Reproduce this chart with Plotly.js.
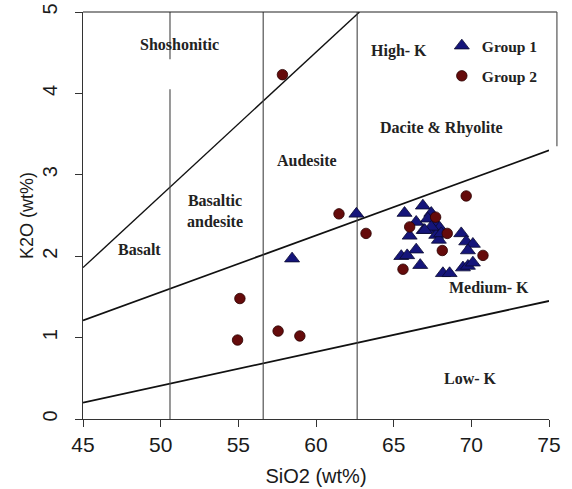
<!DOCTYPE html>
<html>
<head>
<meta charset="utf-8">
<script src="https://cdn.plot.ly/plotly-3.0.1.min.js"></script>
<style>html,body{margin:0;padding:0;background:#fff;}#chart{width:572px;height:489px;}</style>
</head>
<body>
<div id="chart"></div>
<script>
// ---- data ----
const group1SiO2 = [58.46, 62.6, 65.7, 66.88, 67.42, 66.45, 67.2, 67.74, 66.93, 67.53, 67.96, 66.03, 67.74, 67.91, 69.35, 69.67, 70.1, 69.78, 66.45, 65.49, 65.87, 66.71, 68.17, 68.6, 69.46, 69.78, 70.1, 67.42, 68.06, 67.0];
const group1K2O  = [1.97, 2.52, 2.53, 2.62, 2.53, 2.42, 2.46, 2.39, 2.32, 2.33, 2.35, 2.25, 2.26, 2.2, 2.28, 2.18, 2.15, 2.07, 2.08, 2.0, 2.01, 1.89, 1.79, 1.79, 1.86, 1.88, 1.92, 2.36, 2.28, 2.32];
const group2SiO2 = [57.84, 55.1, 54.95, 57.56, 58.96, 61.48, 63.22, 69.67, 66.03, 67.7, 68.45, 68.13, 70.75, 65.6];
const group2K2O  = [4.23, 1.48, 0.97, 1.08, 1.02, 2.52, 2.28, 2.74, 2.36, 2.48, 2.28, 2.07, 2.01, 1.84];

// boundary lines (SiO2, K2O)
const lowMedX = [45, 75],   lowMedY = [0.2, 1.45];
const medHighX = [45, 75],  medHighY = [1.21, 3.3];
const highShoX = [45, 62.8], highShoY = [1.86, 5.0];
const vBasaltX = [50.6, 50.6], vBasaltY = [0, 4.05];
const vBasaltTopX = [50.6, 50.6], vBasaltTopY = [4.42, 5.0];
const vAndX = [56.6, 56.6], vAndY = [0, 5];
const vDacX = [62.65, 62.65], vDacY = [0, 5];

const xTicks = [45, 50, 55, 60, 65, 70, 75];
const yTicks = [0, 1, 2, 3, 4, 5];

// region labels
const labelText = ['Shoshonitic', 'High- K', 'Dacite &amp; Rhyolite', 'Audesite', 'Basaltic<br>andesite', 'Basalt', 'Medium- K', 'Low- K'];
const labelX = [51.18, 65.35, 68.09, 59.42, 53.47, 48.64, 71.14, 69.92];
const labelY = [4.6, 4.52, 3.57, 3.18, 2.55, 2.08, 1.62, 0.5];

const serif = 'Liberation Serif, Times New Roman, serif';
const sans = 'Liberation Sans, Arial, sans-serif';

function bline(x, y, color, width) {
  return {x: x, y: y, type: 'scatter', mode: 'lines', showlegend: false, hoverinfo: 'skip',
          line: {color: color, width: width}};
}

const traces = [
  bline(lowMedX, lowMedY, '#111', 1.8),
  bline(medHighX, medHighY, '#111', 1.8),
  bline(highShoX, highShoY, '#111', 1.4),
  bline(vBasaltX, vBasaltY, '#444', 1.1),
  bline(vBasaltTopX, vBasaltTopY, '#444', 1.1),
  bline(vAndX, vAndY, '#444', 1.1),
  bline(vDacX, vDacY, '#444', 1.1),
  {x: group1SiO2, y: group1K2O, type: 'scatter', mode: 'markers', name: 'Group 1', legendgroup: 'g1',
   marker: {symbol: 'triangle-up', size: 13, color: '#15157a', line: {color: '#0a0a30', width: 0.8}}},
  {x: group2SiO2, y: group2K2O, type: 'scatter', mode: 'markers', name: 'Group 2', legendgroup: 'g2',
   marker: {symbol: 'circle', size: 10.5, color: '#650b0b', line: {color: '#2a0000', width: 0.8}}}
];

const annotations = labelText.map((t, i) => ({
  x: labelX[i], y: labelY[i], xref: 'x', yref: 'y', text: '<b>' + t + '</b>', showarrow: false,
  font: {family: serif, size: 16, color: '#222'}, align: 'center'
}));

const layout = {
  width: 572, height: 489,
  margin: {l: 83, r: 23, t: 12, b: 70},
  paper_bgcolor: '#fff', plot_bgcolor: '#fff',
  showlegend: true,
  legend: {x: 0.77, y: 0.958, xanchor: 'left', yanchor: 'top', bgcolor: 'rgba(0,0,0,0)', borderwidth: 0,
           traceorder: 'grouped', tracegroupgap: 7,
           font: {family: serif, size: 15.5, color: '#222', weight: 'bold'}},
  xaxis: {range: [45, 75], tickvals: xTicks, showgrid: false, zeroline: false, showline: true,
          linecolor: '#333', linewidth: 1, ticks: 'outside', ticklen: 7, tickcolor: '#333',
          tickfont: {family: sans, size: 21, color: '#1a1a1a'},
          title: {text: 'SiO2 (wt%)', font: {family: sans, size: 20, color: '#1a1a1a'}, standoff: 13}},
  yaxis: {range: [0, 5], tickvals: yTicks, tickangle: -90, showgrid: false, zeroline: false, showline: true,
          linecolor: '#333', linewidth: 1, ticks: 'outside', ticklen: 7, tickcolor: '#333',
          ticklabelstandoff: 10,
          tickfont: {family: sans, size: 20, color: '#1a1a1a'},
          title: {text: 'K2O (wt%)', font: {family: sans, size: 18, color: '#1a1a1a'}, standoff: 0}},
  shapes: [
    {type: 'line', xref: 'paper', yref: 'paper', x0: 0, x1: 1.017, y0: 1, y1: 1, line: {color: '#222', width: 1.2}},
    {type: 'line', xref: 'paper', yref: 'paper', x0: 1.017, x1: 1.017, y0: 1, y1: 0.67, line: {color: '#555', width: 1.2}}
  ],
  annotations: annotations
};

Plotly.newPlot('chart', traces, layout, {displayModeBar: false, staticPlot: true});
</script>
</body>
</html>
